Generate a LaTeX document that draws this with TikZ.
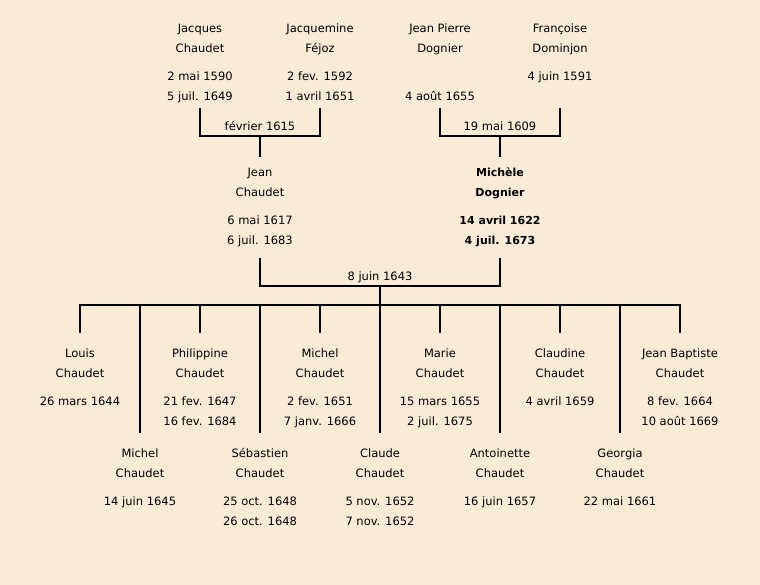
\documentclass[tikz,border=0pt]{standalone}
\usepackage{fontspec}
\setmainfont{DejaVu Sans}
\definecolor{bg}{HTML}{FAEBD7}
\newcommand\person[8]{%
  \node[#8] (#1-a) at (#2,#3) {#4};
  \node[#8] (#1-b) at (#2,#3+20) {#5};
  \node[#8] (#1-c) at (#2,#3+48) {#6};
  \node[#8] (#1-d) at (#2,#3+68) {#7};
}
\begin{document}
\begin{tikzpicture}[x=1pt,y=-1pt,
  txt/.style={anchor=base,inner sep=0pt,font=\fontsize{11.5}{14}\selectfont},
  boldtxt/.style={anchor=base,inner sep=0pt,font=\fontsize{11}{14}\selectfont\bfseries},
  link/.style={line width=2pt}]
\fill[bg] (0,0) rectangle (760,585);
\useasboundingbox (0,0) rectangle (760,585);
% grandparents
\person{jac}{200}{33}{Jacques}{Chaudet}{2 mai 1590}{5 juil. 1649}{txt}
\person{fej}{320}{33}{Jacquemine}{Féjoz}{2 fev. 1592}{1 avril 1651}{txt}
\person{jpd}{440}{33}{Jean Pierre}{Dognier}{}{4 août 1655}{txt}
\person{fra}{560}{33}{Françoise}{Dominjon}{4 juin 1591}{}{txt}
% parents
\person{jea}{260}{177}{Jean}{Chaudet}{6 mai 1617}{6 juil. 1683}{txt}
\person{mic}{500}{177}{Michèle}{Dognier}{14 avril 1622}{4 juil. 1673}{boldtxt}
% children top row
\person{lou}{80}{357}{Louis}{Chaudet}{26 mars 1644}{}{txt}
\person{phi}{200}{357}{Philippine}{Chaudet}{21 fev. 1647}{16 fev. 1684}{txt}
\person{mi2}{320}{357}{Michel}{Chaudet}{2 fev. 1651}{7 janv. 1666}{txt}
\person{mar}{440}{357}{Marie}{Chaudet}{15 mars 1655}{2 juil. 1675}{txt}
\person{cld}{560}{357}{Claudine}{Chaudet}{4 avril 1659}{}{txt}
\person{jbc}{680}{357}{Jean Baptiste}{Chaudet}{8 fev. 1664}{10 août 1669}{txt}
% children bottom row
\person{mi1}{140}{457}{Michel}{Chaudet}{14 juin 1645}{}{txt}
\person{seb}{260}{457}{Sébastien}{Chaudet}{25 oct. 1648}{26 oct. 1648}{txt}
\person{cla}{380}{457}{Claude}{Chaudet}{5 nov. 1652}{7 nov. 1652}{txt}
\person{ant}{500}{457}{Antoinette}{Chaudet}{16 juin 1657}{}{txt}
\person{geo}{620}{457}{Georgia}{Chaudet}{22 mai 1661}{}{txt}
% marriage 1
\coordinate (jacB) at (200,108);
\coordinate (fejB) at (320,108);
\coordinate (m1) at (260,136);
\coordinate (jeaT) at (260,157);
\node[txt] (m1l) at (260,131) {février 1615};
\draw[link] (jacB) |- (m1) -| (fejB);
\draw[link] (m1) -- (jeaT);
% marriage 2
\coordinate (jpdB) at (440,108);
\coordinate (fraB) at (560,108);
\coordinate (m2) at (500,136);
\coordinate (micT) at (500,157);
\node[txt] (m2l) at (500,131) {19 mai 1609};
\draw[link] (jpdB) |- (m2) -| (fraB);
\draw[link] (m2) -- (micT);
% marriage 3
\coordinate (jeaB) at (260,258);
\coordinate (micB) at (500,258);
\coordinate (m3) at (380,286);
\coordinate (kids) at (380,305);
\node[txt] (m3l) at (380,280) {8 juin 1643};
\draw[link] (jeaB) |- (m3) -| (micB);
\draw[link] (m3) -- (kids);
% children bar
\coordinate (louT) at (80,333);
\coordinate (jbcT) at (680,333);
\draw[link] (louT) |- (kids) -| (jbcT);
\foreach \id/\x in {phi/200,mi2/320,mar/440,cld/560}{
  \coordinate (\id T) at (\x,333);
  \coordinate (\id J) at (\x,305);
  \draw[link] (\id J) -- (\id T);
}
\foreach \id/\x in {mi1/140,seb/260,cla/380,ant/500,geo/620}{
  \coordinate (\id T) at (\x,433);
  \coordinate (\id J) at (\x,305);
  \draw[link] (\id J) -- (\id T);
}
\end{tikzpicture}
\end{document}
